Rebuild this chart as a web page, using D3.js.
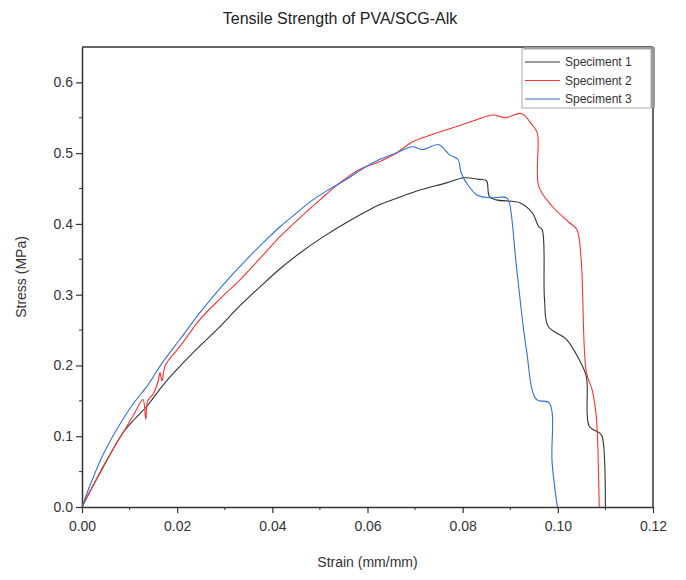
<!DOCTYPE html>
<html>
<head>
<meta charset="utf-8">
<script src="https://cdn.jsdelivr.net/npm/d3@7"></script>
<style>
  body { margin: 0; background: #fff; }
  svg { font-family: "Liberation Sans", Arial, sans-serif; }
</style>
</head>
<body>
<div id="chart"></div>
<script>
// strain (mm/mm), stress (MPa)
var spec1 = [
  [0, 0], [0.002, 0.026], [0.0045, 0.057], [0.0086, 0.105], [0.011, 0.124],
  [0.0136, 0.142], [0.017, 0.172], [0.0206, 0.199], [0.025, 0.229], [0.029, 0.255],
  [0.033, 0.283], [0.0374, 0.311], [0.0415, 0.336], [0.0458, 0.359], [0.0505, 0.381],
  [0.0556, 0.402], [0.0625, 0.427], [0.066, 0.436], [0.071, 0.448], [0.0766, 0.458],
  [0.080, 0.465], [0.0835, 0.463], [0.085, 0.461], [0.0856, 0.439], [0.087, 0.434],
  [0.092, 0.43], [0.0946, 0.416], [0.096, 0.396], [0.0967, 0.392], [0.0972, 0.293],
  [0.098, 0.255], [0.1018, 0.237], [0.1045, 0.208], [0.106, 0.184], [0.1066, 0.114],
  [0.1087, 0.105], [0.1093, 0.10], [0.110, 0]
];
var spec2 = [
  [0, 0], [0.002, 0.026], [0.0045, 0.058], [0.0086, 0.105], [0.011, 0.132],
  [0.0128, 0.152], [0.0134, 0.124], [0.0138, 0.15], [0.015, 0.16], [0.016, 0.178],
  [0.0164, 0.19], [0.0168, 0.178], [0.0175, 0.2], [0.0206, 0.227], [0.0248, 0.265],
  [0.029, 0.294], [0.0332, 0.321], [0.0375, 0.352], [0.0416, 0.382], [0.046, 0.41],
  [0.05, 0.434], [0.054, 0.457], [0.0583, 0.477], [0.0625, 0.488], [0.066, 0.50],
  [0.0695, 0.516], [0.073, 0.525], [0.0766, 0.533], [0.082, 0.545], [0.0863, 0.554],
  [0.089, 0.55], [0.0923, 0.556], [0.0946, 0.54], [0.0957, 0.528], [0.096, 0.453],
  [0.0988, 0.425], [0.1024, 0.402], [0.104, 0.392], [0.1049, 0.35], [0.106, 0.19],
  [0.1072, 0.166], [0.108, 0.133], [0.1083, 0.105], [0.1087, 0]
];
var spec3 = [
  [0, 0], [0.002, 0.036], [0.0045, 0.075], [0.0086, 0.124], [0.011, 0.148],
  [0.0136, 0.17], [0.017, 0.205], [0.0206, 0.237], [0.024, 0.268], [0.0275, 0.297],
  [0.031, 0.324], [0.0346, 0.35], [0.038, 0.373], [0.0416, 0.396], [0.045, 0.415],
  [0.0485, 0.434], [0.052, 0.449], [0.0556, 0.463], [0.059, 0.478], [0.0625, 0.491],
  [0.066, 0.50], [0.0695, 0.509], [0.0716, 0.505], [0.075, 0.512], [0.0772, 0.498],
  [0.079, 0.491], [0.0797, 0.472], [0.0808, 0.458], [0.083, 0.441], [0.0856, 0.437],
  [0.0892, 0.437], [0.0898, 0.43], [0.0913, 0.34], [0.0934, 0.222], [0.0955, 0.152],
  [0.0982, 0.147], [0.0988, 0.062], [0.0999, 0]
];
var seriesNames = ["Speciment 1", "Speciment 2", "Speciment 3"];
var seriesColors = ["#333333", "#ff3030", "#2f6fe0"];
var xTicks = [0, 0.02, 0.04, 0.06, 0.08, 0.10, 0.12];
var yTicks = [0, 0.1, 0.2, 0.3, 0.4, 0.5, 0.6];

var width = 686, height = 580;
var margin = {top: 47, right: 33, bottom: 73, left: 82};
var plotW = width - margin.left - margin.right;
var plotH = height - margin.top - margin.bottom;

var svg = d3.select("#chart").append("svg")
  .attr("width", width)
  .attr("height", height);

var x = d3.scaleLinear().domain([0, 0.12]).range([0, plotW]);
var y = d3.scaleLinear().domain([0, 0.65]).range([plotH, 0]);

var g = svg.append("g")
  .attr("transform", "translate(" + margin.left + "," + margin.top + ")");

// minor ticks
var xMinor = d3.range(0.01, 0.12, 0.02);
var yMinor = d3.range(0.05, 0.65, 0.1);
g.selectAll(".xminor").data(xMinor).enter().append("line")
  .attr("x1", function(d) { return x(d); }).attr("x2", function(d) { return x(d); })
  .attr("y1", plotH).attr("y2", plotH + 3)
  .attr("stroke", "#333").attr("stroke-width", 1);
g.selectAll(".yminor").data(yMinor).enter().append("line")
  .attr("y1", function(d) { return y(d); }).attr("y2", function(d) { return y(d); })
  .attr("x1", 0).attr("x2", -3)
  .attr("stroke", "#333").attr("stroke-width", 1);

var xAxis = g.append("g")
  .attr("transform", "translate(0," + plotH + ")")
  .call(d3.axisBottom(x).tickValues(xTicks).tickFormat(d3.format(".2f")).tickSize(6).tickSizeOuter(0));
var yAxis = g.append("g")
  .call(d3.axisLeft(y).tickValues(yTicks).tickFormat(d3.format(".1f")).tickSize(6).tickSizeOuter(0));

[xAxis, yAxis].forEach(function(a) {
  a.select(".domain").attr("stroke", "#333").attr("stroke-width", 1.5);
  a.selectAll(".tick line").attr("stroke", "#333").attr("stroke-width", 1.2);
  a.selectAll("text").attr("font-size", 14).attr("fill", "#333")
    .attr("font-family", "'Liberation Sans', Arial, sans-serif");
});
xAxis.selectAll("text").attr("dy", "1.1em");

// frame top and right
g.append("line").attr("x1", 0).attr("x2", plotW).attr("y1", 0).attr("y2", 0)
  .attr("stroke", "#333").attr("stroke-width", 1.5);
g.append("line").attr("x1", plotW).attr("x2", plotW).attr("y1", 0).attr("y2", plotH)
  .attr("stroke", "#333").attr("stroke-width", 1.5);

var line = d3.line()
  .curve(d3.curveCatmullRom.alpha(0.5))
  .x(function(d) { return x(d[0]); })
  .y(function(d) { return y(d[1]); });

[spec1, spec2, spec3].forEach(function(s, i) {
  g.append("path")
    .datum(s)
    .attr("fill", "none")
    .attr("stroke", seriesColors[i])
    .attr("stroke-width", 1.1)
    .attr("d", line);
});

// legend
var lg = g.append("g").attr("transform", "translate(" + (plotW - 131) + ",1)");
lg.append("rect").attr("x", 2).attr("y", -1).attr("width", 131).attr("height", 61)
  .attr("fill", "#999");
lg.append("rect").attr("x", 0).attr("y", 1).attr("width", 129).attr("height", 59)
  .attr("fill", "#fff").attr("stroke", "#aaa").attr("stroke-width", 1);
seriesNames.forEach(function(n, i) {
  var yy = 14 + i * 18.5;
  lg.append("line").attr("x1", 3).attr("x2", 38).attr("y1", yy).attr("y2", yy)
    .attr("stroke", seriesColors[i]).attr("stroke-width", 1.1);
  lg.append("text").attr("x", 43).attr("y", yy + 4).attr("font-size", 12)
    .attr("fill", "#333").text(n);
});

// titles
svg.append("text").attr("x", 340).attr("y", 24).attr("text-anchor", "middle")
  .attr("font-size", 16).attr("fill", "#222").text("Tensile Strength of PVA/SCG-Alk");
svg.append("text").attr("x", margin.left + plotW / 2).attr("y", 567).attr("text-anchor", "middle")
  .attr("font-size", 14).attr("fill", "#333").text("Strain (mm/mm)");
svg.append("text").attr("transform", "translate(26," + (margin.top + plotH / 2) + ") rotate(-90)")
  .attr("text-anchor", "middle").attr("font-size", 14).attr("fill", "#333").text("Stress (MPa)");
</script>
</body>
</html>
